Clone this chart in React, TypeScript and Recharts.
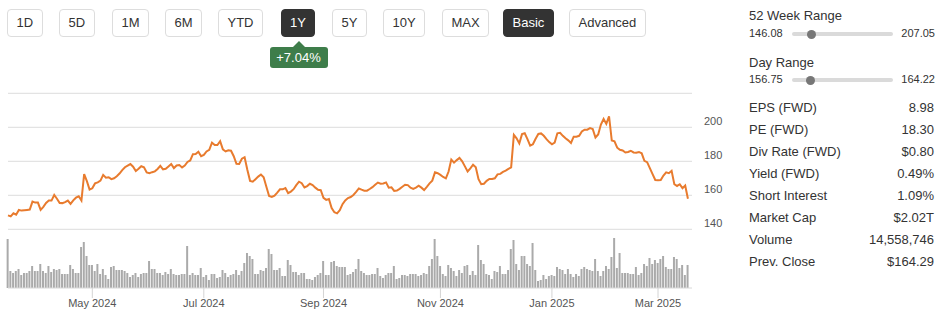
import React from 'react';
import { LineChart, Line, BarChart, Bar, XAxis, YAxis, CartesianGrid } from 'recharts';

// daily closes, 18 Mar 2024 .. 18 Mar 2025 (one per trading day)
const prices = [
  148.2, 147.6, 149.4, 148.6, 151.4, 151.0, 151.2, 151.4, 151.6, 156.3,
  155.7, 155.7, 151.4, 153.2, 155.5, 157.0, 156.9, 160.2, 158.0, 155.5,
  155.4, 156.0, 156.9, 154.9, 157.0, 158.6, 159.4, 156.9, 172.5, 168.3,
  163.4, 164.1, 167.0, 167.6, 168.6, 172.0, 170.4, 170.6, 169.5, 170.0,
  171.2, 172.8, 174.8, 176.5, 177.5, 178.4, 176.8, 174.3, 175.6, 177.1,
  176.5, 173.5, 173.0, 173.6, 174.1, 175.5, 177.3, 175.3, 175.6, 177.0,
  178.4, 176.0, 177.5, 177.8, 176.4, 177.5, 179.6, 180.5, 184.2, 184.3,
  185.6, 183.0, 183.8, 185.8, 186.8, 191.0, 189.6, 189.6, 191.8, 187.0,
  185.8, 186.5, 186.2, 183.0, 178.5, 178.4, 181.5, 182.4, 175.0, 168.5,
  168.0, 169.5, 171.0, 172.2, 170.6, 165.0, 159.6, 159.0, 159.8, 161.6,
  163.5, 163.5, 164.3, 161.3, 162.2, 163.6, 166.0, 168.0, 167.1, 164.6,
  165.4, 166.8, 166.0, 164.5, 163.2, 163.0, 158.5, 157.3, 157.8, 152.5,
  150.0, 149.4, 151.2, 154.8, 157.0, 158.4, 159.0, 160.2, 162.0, 164.0,
  163.3, 162.7, 162.7, 163.7, 164.8, 166.2, 167.5, 166.8, 167.0, 167.6,
  164.5, 164.7, 162.6, 162.8, 163.8, 165.0, 166.2, 166.0, 164.5, 163.8,
  164.5, 165.6, 164.5, 163.1, 165.0, 167.0, 168.6, 173.5, 173.0, 172.0,
  170.8, 170.0, 174.0, 181.0, 179.2, 180.7, 182.0, 180.0, 177.0, 174.0,
  175.8, 178.0, 176.5, 169.5, 166.5, 166.8, 168.5, 169.6, 169.6, 170.0,
  172.3, 172.6, 173.8, 174.5, 175.5, 176.4, 195.5, 193.5, 190.5, 196.0,
  196.5, 193.0, 189.2, 190.0, 193.3, 196.1, 196.4, 195.0, 193.0, 191.3,
  190.0, 191.0, 196.5, 196.8, 195.0, 193.5, 192.3, 190.8, 194.5, 194.5,
  195.0, 197.5, 198.6, 198.6, 199.5, 199.0, 194.0, 195.8, 201.6, 204.9,
  202.0, 206.5, 192.2, 191.8, 188.0, 186.8, 186.4, 185.2, 185.5, 186.2,
  185.2, 185.0, 185.5, 184.7, 180.3, 179.5, 176.0, 172.5, 169.0, 168.8,
  169.0, 171.6, 173.5, 173.0, 174.4, 166.5, 165.5, 166.5, 164.2, 165.8,
  158.0,
];

// daily volume, millions (relative)
const volumes = [
  49, 17, 15, 17, 19, 13, 15, 15, 17, 22,
  17, 17, 24, 17, 15, 22, 16, 19, 18, 19,
  14, 14, 14, 23, 19, 15, 15, 41, 46, 32,
  23, 23, 17, 24, 14, 19, 13, 9, 21, 22,
  18, 18, 18, 17, 15, 11, 13, 15, 11, 14,
  15, 15, 27, 19, 19, 15, 15, 13, 16, 14,
  19, 14, 13, 13, 14, 14, 42, 13, 15, 13,
  13, 20, 11, 13, 8, 14, 14, 10, 11, 18,
  15, 11, 13, 14, 18, 13, 17, 25, 35, 32,
  29, 14, 14, 18, 17, 20, 39, 34, 18, 18,
  20, 12, 12, 28, 23, 16, 16, 13, 15, 15,
  9, 9, 8, 11, 13, 15, 27, 13, 13, 26,
  27, 22, 21, 21, 21, 13, 14, 16, 19, 29,
  17, 15, 13, 13, 14, 14, 20, 12, 10, 13,
  15, 15, 22, 9, 10, 13, 13, 12, 14, 14,
  14, 12, 13, 15, 14, 22, 29, 49, 32, 22,
  14, 12, 23, 20, 17, 12, 18, 15, 22, 23,
  13, 17, 13, 43, 28, 24, 14, 13, 9, 17,
  16, 22, 14, 14, 18, 39, 48, 24, 18, 32,
  32, 24, 22, 45, 18, 7, 8, 13, 9, 12,
  13, 12, 21, 19, 18, 14, 19, 14, 11, 14,
  12, 19, 21, 19, 18, 17, 29, 17, 12, 17,
  22, 19, 31, 50, 20, 35, 15, 15, 15, 14,
  14, 21, 13, 15, 24, 22, 30, 24, 28, 25,
  29, 32, 21, 19, 19, 31, 29, 20, 23, 13,
  23,
];

const monthTicks = [31, 72, 116, 159, 200, 239];
const monthLabels = ['May 2024', 'Jul 2024', 'Sep 2024', 'Nov 2024', 'Jan 2025', 'Mar 2025'];
const priceTicks = [140, 160, 180, 200, 220];

const periods = ['1D', '5D', '1M', '6M', 'YTD', '1Y', '5Y', '10Y', 'MAX'];
const views = ['Basic', 'Advanced'];
const activePeriod = '1Y';
const activeView = 'Basic';
const periodChange = '+7.04%';

const weekRange = [146.08, 207.05];
const dayRange = [156.75, 164.22];
const lastPrice = 158.1;

const statLabels = ['EPS (FWD)', 'PE (FWD)', 'Div Rate (FWD)', 'Yield (FWD)', 'Short Interest', 'Market Cap', 'Volume', 'Prev. Close'];
const statValues = ['8.98', '18.30', '$0.80', '0.49%', '1.09%', '$2.02T', '14,558,746', '$164.29'];

const FONT = 'Arial, "Liberation Sans", Helvetica, sans-serif';
const LINE = '#e87b2e';

// button lefts / widths as laid out in the toolbar
const btnLeft = [7, 59, 112, 165, 218, 280.5, 332, 383, 442, 503, 569];

const PriceTick = (props: any) => {
  const { x, y, payload } = props;
  if (payload.value === 220) return <g />;
  return (
    <text x={x} y={y - 2} fill="#555" fontSize={11} fontFamily={FONT} textAnchor="start">
      {payload.value}
    </text>
  );
};

const DateTick = (props: any) => {
  const { x, y, payload } = props;
  const k = monthTicks.indexOf(payload.value);
  return (
    <text x={x} y={y + 8.5} fill="#555" fontSize={11} fontFamily={FONT} textAnchor="middle">
      {monthLabels[k]}
    </text>
  );
};

function Btn({ label, left, active }: { label: string; left: number; active: boolean }) {
  return (
    <div
      style={{
        position: 'absolute',
        left,
        top: 9,
        height: 26,
        padding: '0 8.5px',
        lineHeight: '26px',
        fontSize: 13,
        borderRadius: 4,
        border: active ? '1px solid #333' : '1px solid #ddd',
        background: active ? '#333' : '#fff',
        color: active ? '#fff' : '#333',
        whiteSpace: 'nowrap',
      }}
    >
      {label}
    </div>
  );
}

function RangeRow({ top, range }: { top: number; range: number[] }) {
  const frac = (lastPrice - range[0]) / (range[1] - range[0]);
  return (
    <div style={{ position: 'absolute', left: 749, top, width: 186, height: 14, fontSize: 11 }}>
      <span style={{ position: 'absolute', left: 0, top: 0, lineHeight: '14px' }}>{range[0].toFixed(2)}</span>
      <div style={{ position: 'absolute', left: 43, top: 6, width: 101, height: 4, background: '#dadada', borderRadius: 2 }} />
      <div style={{ position: 'absolute', left: 43 + frac * 101 - 4.5, top: 3.5, width: 9, height: 9, background: '#777', borderRadius: '50%' }} />
      <span style={{ position: 'absolute', right: 0, top: 0, lineHeight: '14px' }}>{range[1].toFixed(2)}</span>
    </div>
  );
}

export default function App() {
  const data = prices.map((price, i) => ({ i, price, volume: volumes[i] }));
  const pIdx = periods.indexOf(activePeriod);
  const tipCenter = btnLeft[pIdx] + 18;

  return (
    <div style={{ position: 'absolute', left: 0, top: 0, width: 949, height: 317, background: '#fff', fontFamily: FONT, color: '#333', overflow: 'hidden' }}>
      {periods.map((p, k) => (
        <Btn key={p} label={p} left={btnLeft[k]} active={p === activePeriod} />
      ))}
      {views.map((v, k) => (
        <Btn key={v} label={v} left={btnLeft[periods.length + k]} active={v === activeView} />
      ))}

      {/* change badge under the active period */}
      <div style={{ position: 'absolute', left: tipCenter - 6, top: 41, width: 0, height: 0, borderLeft: '6px solid transparent', borderRight: '6px solid transparent', borderBottom: '6px solid #3e7d4a' }} />
      <div style={{ position: 'absolute', left: tipCenter - 29, top: 47, width: 58, height: 21, lineHeight: '21px', textAlign: 'center', background: '#3e7d4a', color: '#fff', fontSize: 13, borderRadius: 3 }}>
        {periodChange}
      </div>

      <div style={{ position: 'absolute', left: 0, top: 80 }}>
        <LineChart width={740} height={160} data={data} margin={{ top: 13.3, right: 0, bottom: 10.7, left: 8 }}>
          <CartesianGrid vertical={false} stroke="#dcdcdc" />
          <XAxis dataKey="i" type="number" domain={[0, 251.5]} hide />
          <YAxis
            orientation="right"
            domain={[140, 220]}
            ticks={priceTicks}
            axisLine={false}
            tickLine={false}
            tickSize={0}
            tickMargin={12}
            width={48}
            tick={<PriceTick />}
          />
          <Line type="linear" dataKey="price" stroke={LINE} strokeWidth={2} dot={false} isAnimationActive={false} />
        </LineChart>
      </div>

      <div style={{ position: 'absolute', left: 0, top: 225 }}>
        <BarChart width={740} height={92} data={data} margin={{ top: 6, right: 48, bottom: 0, left: 8 }}>
          <XAxis
            dataKey="i"
            type="number"
            domain={[0, 251.5]}
            ticks={monthTicks}
            interval={0}
            height={29}
            tickSize={10}
            tickMargin={0}
            axisLine={{ stroke: '#d8d8d8' }}
            tickLine={{ stroke: '#d4d4d4' }}
            tick={<DateTick />}
          />
          <YAxis hide domain={[0, 57]} />
          <Bar dataKey="volume" fill="#aaaaaa" barSize={2} isAnimationActive={false} />
        </BarChart>
      </div>

      {/* right info panel */}
      <div style={{ position: 'absolute', left: 749, top: 8, fontSize: 13, lineHeight: '16px' }}>52 Week Range</div>
      <RangeRow top={26} range={weekRange} />
      <div style={{ position: 'absolute', left: 749, top: 54.5, fontSize: 13, lineHeight: '16px' }}>Day Range</div>
      <RangeRow top={72} range={dayRange} />
      {statLabels.map((label, k) => (
        <div key={label} style={{ position: 'absolute', left: 749, top: 100 + k * 22, width: 185, fontSize: 13, lineHeight: '16px' }}>
          <span>{label}</span>
          <span style={{ position: 'absolute', right: 0 }}>{statValues[k]}</span>
        </div>
      ))}
    </div>
  );
}
